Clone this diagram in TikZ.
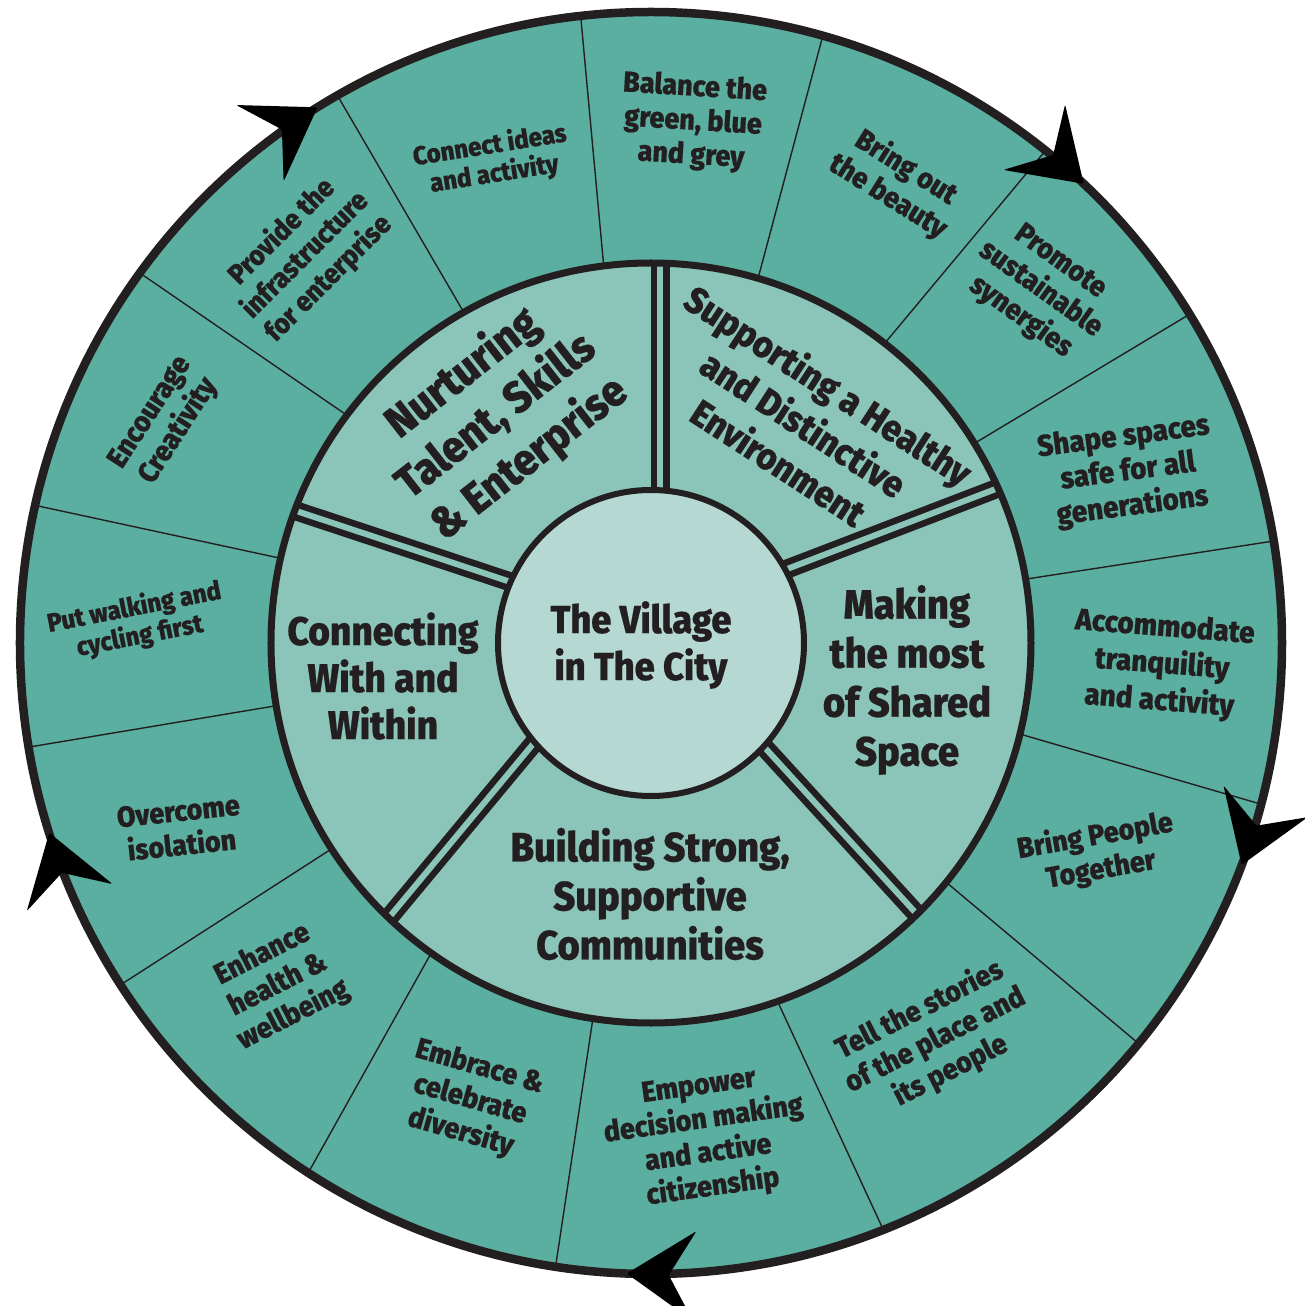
\documentclass[tikz,border=0pt]{standalone}
\usepackage{fontspec}
\newfontfamily\labfont{Fira Sans ExtraBold}[FakeStretch=0.93, FakeBold=0.5]
\usetikzlibrary{calc}
\definecolor{ringouter}{RGB}{91,175,160}
\definecolor{ringmid}{RGB}{139,196,184}
\definecolor{hub}{RGB}{181,217,210}
\definecolor{ink}{RGB}{35,31,32}

% clockwise arrowhead sitting on the outer rim, tip at the given angle
\newcommand\rimarrow[2]{%
  \fill[black, shift={(#1:631pt)}, rotate=#1-90, rounded corners=1.5pt]
    (0,0) -- (-68,45) -- (-42,0) -- (-68,-45) -- cycle;
  \coordinate (#2) at (#1:631pt);
}

\begin{document}
\begin{tikzpicture}[x=1pt,y=1pt,
  lbl/.style={text=ink, align=center, inner sep=0pt},
  outerlbl/.style={lbl, font=\labfont\fontsize{29}{34}\selectfont},
  smalllbl/.style={lbl, font=\labfont\fontsize{26}{29}\selectfont},
  themelbl/.style={lbl, font=\labfont\fontsize{40}{47}\selectfont},
  hublbl/.style={lbl, font=\labfont\fontsize{39}{47}\selectfont},
  spoke/.style={ink, line width=1.4pt},
  gate/.style={ink, line width=6.5pt, double=ringmid, double distance=6pt},
]
\useasboundingbox (-651,-663) rectangle (654,643);

% outer ring and its fifteen segments
\fill[ringouter] (0,0) circle (631pt);
\foreach \a/\b in {119.5/119.8, 97.2/96.4, 73.6/74.2, 52.1/51.3, 31.7/31.4,
                   9.7/9.3, -13.8/-14.8, -39/-39.4, -70.7/-68.4, -98.8/-98.7,
                   -125.5/-122.9, -147.2/-147.2, -170.5/-170.5, 167.1/167.4, 143.1/144.1}
  \draw[spoke] (\a:370pt) -- (\b:631pt);

% middle ring with its five themes
\fill[ringmid] (0,0) circle (380pt);
\begin{scope}
  \clip (0,0) circle (380pt);
  \draw[gate] (9,100) -- (9,420);
  \draw[gate] (97,59) -- (389,171);
  \draw[gate] (84,-72) -- (294,-302);
  \draw[gate] (-93,-71) -- (-289,-307);
  \draw[gate] (-104,49) -- (-400,147);
\end{scope}

% hub
\fill[hub] (0,0) circle (153pt);

% ring outlines
\draw[ink, line width=8.5pt] (0,0) circle (631pt);
\draw[ink, line width=7pt] (0,0) circle (380pt);
\draw[ink, line width=6pt] (0,0) circle (153pt);

% flow arrows round the rim
\rimarrow{121.9}{arrA}
\rimarrow{46.7}{arrB}
\rimarrow{-20.6}{arrC}
\rimarrow{-92.2}{arrD}
\rimarrow{-162.5}{arrE}

% hub title
\node[hublbl] (hubtitle) at (-10,-2) {The Village\\in The City};

% themes
\node[themelbl, font=\labfont\fontsize{44}{54}\selectfont, rotate=38] (tNurture) at (-155,227) {Nurturing\\Talent, Skills\\\& Enterprise};
\node[themelbl, font=\labfont\fontsize{37}{46}\selectfont, rotate=-33] (tSupport) at (153,220) {Supporting a Healthy\\and Distinctive\\Environment};
\node[themelbl, font=\labfont\fontsize{41}{49}\selectfont] (tShared) at (256,-37) {Making\\the most\\of Shared\\Space};
\node[themelbl, font=\labfont\fontsize{41}{49}\selectfont] (tBuild) at (-1,-251) {Building Strong,\\Supportive\\Communities};
\node[themelbl] (tConnect) at (-268,-33) {Connecting\\With and\\Within};

% aims round the outer ring
\node[smalllbl, rotate=9] (aConnect) at (-159,483) {Connect ideas\\and activity};
\node[outerlbl, rotate=-3.5] (aBalance) at (42,521) {Balance the\\green, blue\\and grey};
\node[outerlbl, rotate=-32] (aBeauty) at (246,461) {Bring out\\the beauty};
\node[outerlbl, rotate=-35.5] (aPromote) at (389,353) {Promote\\sustainable\\synergies};
\node[outerlbl, font=\labfont\fontsize{30}{35}\selectfont, rotate=7.5] (aShape) at (477,171) {Shape spaces\\safe for all\\generations};
\node[outerlbl, font=\labfont\fontsize{30}{37}\selectfont, rotate=-4.5] (aTranq) at (511,-22) {Accommodate\\tranquility\\and activity};
\node[outerlbl, rotate=10] (aPeople) at (447,-210) {Bring People\\Together};
\node[outerlbl, rotate=27] (aStories) at (284,-397) {Tell the stories\\of the place and\\its people};
\node[outerlbl, rotate=8] (aEmpower) at (55,-495) {Empower\\decision making\\and active\\citizenship};
\node[outerlbl, rotate=-16] (aDiverse) at (-181,-457) {Embrace \&\\celebrate\\diversity};
\node[outerlbl, rotate=27] (aHealth) at (-373,-342) {Enhance\\health \&\\wellbeing};
\node[outerlbl, rotate=6] (aIsolate) at (-471,-185) {Overcome\\isolation};
\node[smalllbl, rotate=11] (aWalk) at (-514,21) {Put walking and\\cycling first};
\node[outerlbl, rotate=57] (aCreate) at (-486,221) {Encourage\\Creativity};
\node[outerlbl, font=\labfont\fontsize{28}{33}\selectfont, rotate=45] (aInfra) at (-346,388) {Provide the\\infrastructure\\for enterprise};
\end{tikzpicture}
\end{document}
